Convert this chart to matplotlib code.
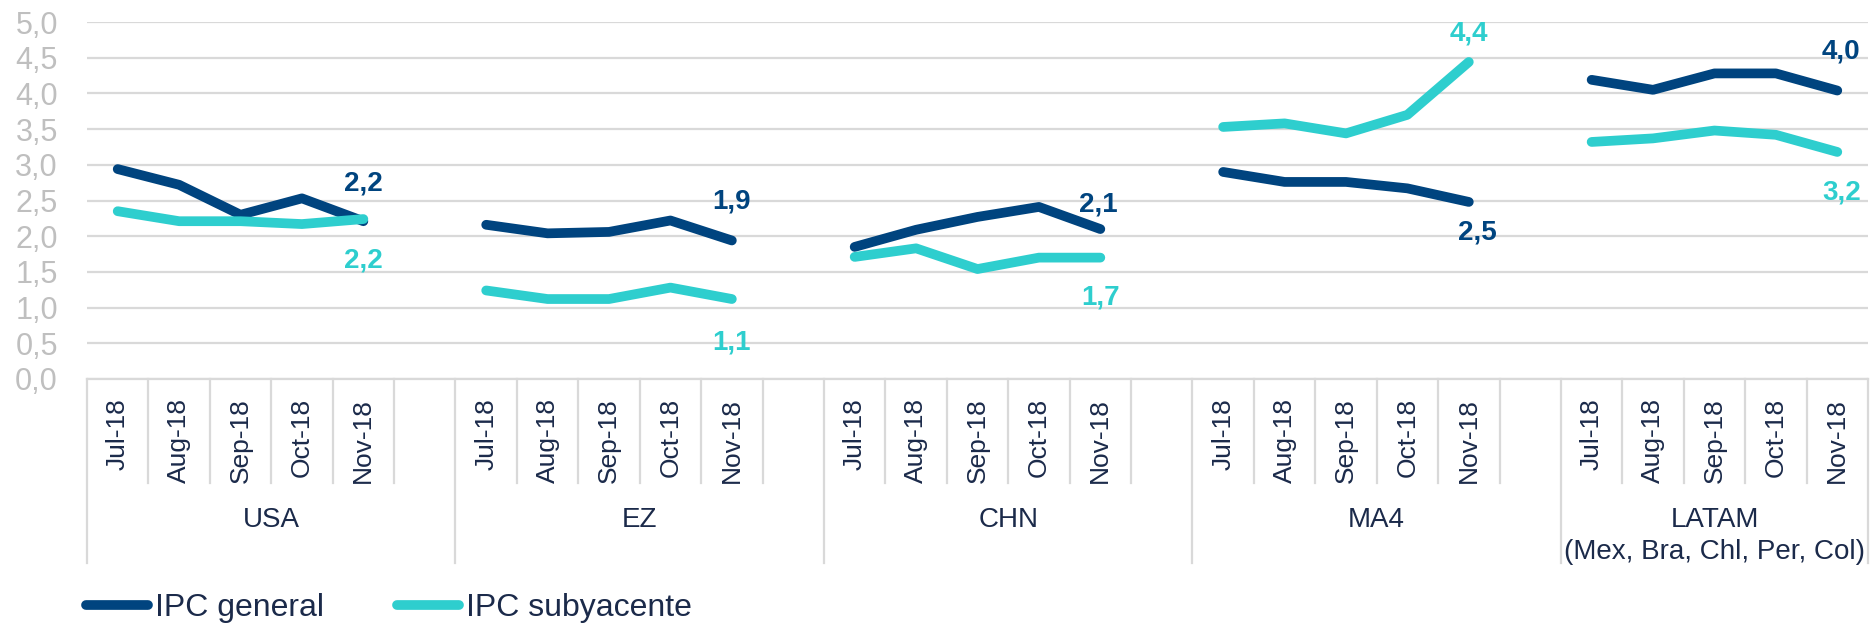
import matplotlib
matplotlib.use("Agg")
import matplotlib.pyplot as plt
from matplotlib.lines import Line2D
from matplotlib.ticker import FuncFormatter
import matplotlib.transforms as mtransforms

plt.rcParams['font.family'] = ['Liberation Sans', 'DejaVu Sans']

months = ['Jul-18', 'Aug-18', 'Sep-18', 'Oct-18', 'Nov-18']
regions = ['USA', 'EZ', 'CHN', 'MA4', 'LATAM\n(Mex, Bra, Chl, Per, Col)']

# IPC general (headline), % y/y
general_usa = [2.94, 2.72, 2.30, 2.53, 2.21]
general_ez = [2.16, 2.04, 2.06, 2.22, 1.94]
general_chn = [1.85, 2.09, 2.27, 2.41, 2.10]
general_ma4 = [2.90, 2.76, 2.76, 2.67, 2.48]
general_latam = [4.19, 4.05, 4.28, 4.28, 4.04]

# IPC subyacente (core), % y/y
core_usa = [2.35, 2.21, 2.21, 2.17, 2.24]
core_ez = [1.24, 1.12, 1.12, 1.28, 1.12]
core_chn = [1.71, 1.83, 1.54, 1.70, 1.70]
core_ma4 = [3.53, 3.58, 3.44, 3.70, 4.44]
core_latam = [3.32, 3.37, 3.48, 3.42, 3.18]

general = [general_usa, general_ez, general_chn, general_ma4, general_latam]
core = [core_usa, core_ez, core_chn, core_ma4, core_latam]

# label offsets in pixels (general, core) for the last point of each group
gen_offsets = [(0, 38), (0, 39), (-2, 25), (9, -31), (4, 39)]
core_offsets = [(0, -41), (0, -43), (0, -40), (0, 28), (4, -41)]

c_gen = '#00447F'
c_core = '#2ECECE'
c_text = '#1B2A4A'
c_grid = '#D9D9D9'

W, H = 1870, 628
fig = plt.figure(figsize=(W / 100, H / 100), dpi=100)
ax = fig.add_axes([87 / W, 1 - 379 / H, (1868 - 87) / W, (379 - 22) / H])

slot = 6
n_slots = slot * (len(regions) - 1) + len(months)

for g in range(len(regions)):
    xs = [g * slot + i for i in range(len(months))]
    ax.plot(xs, general[g], color=c_gen, lw=7, solid_capstyle='round',
            solid_joinstyle='round', zorder=3)
    ax.plot(xs, core[g], color=c_core, lw=7, solid_capstyle='round',
            solid_joinstyle='round', zorder=3)
    ax.annotate(f"{general[g][-1]:.1f}".replace('.', ','), (xs[-1], general[g][-1]),
                xytext=gen_offsets[g], textcoords='offset pixels', ha='center', va='center',
                fontsize=20, fontweight='bold', color=c_gen)
    ax.annotate(f"{core[g][-1]:.1f}".replace('.', ','), (xs[-1], core[g][-1]),
                xytext=core_offsets[g], textcoords='offset pixels', ha='center', va='center',
                fontsize=20, fontweight='bold', color=c_core)

ax.set_xlim(-0.5, n_slots - 0.5)
ax.set_ylim(0, 5)
ax.set_yticks([i * 0.5 for i in range(11)])
ax.yaxis.set_major_formatter(FuncFormatter(lambda v, p: f"{v:.1f}".replace('.', ',')))
ax.tick_params(axis='y', length=0, pad=21, labelsize=22, labelcolor='#BFBFBF')
ax.set_xticks([])
ax.grid(axis='y', color=c_grid, lw=1.6)
ax.set_axisbelow(True)
for s in ['top', 'right', 'left']:
    ax.spines[s].set_visible(False)
ax.spines['bottom'].set_color(c_grid)
ax.spines['bottom'].set_linewidth(1.6)

trans = mtransforms.blended_transform_factory(ax.transData, ax.transAxes)
px = 1 / (379 - 22)

# category dividers
group_edges = [g * slot - 0.5 for g in range(len(regions))] + [n_slots - 0.5]
for b in range(n_slots + 1):
    xb = b - 0.5
    depth = 184 if xb in group_edges else 104
    ax.plot([xb, xb], [0, -depth * px], color=c_grid, lw=1.6, transform=trans,
            clip_on=False)

# month and region labels
for g, reg in enumerate(regions):
    for i, m in enumerate(months):
        ax.text(g * slot + i, -19 * px, m, rotation=90, ha='center', va='top',
                fontsize=19, color=c_text, transform=trans)
    n = len(months) if g == len(regions) - 1 else slot
    xc = g * slot + (n - 1) / 2
    ax.text(xc, -128 * px, reg, ha='center', va='top', fontsize=20,
            color=c_text, transform=trans, linespacing=1.3)

handles = [Line2D([], [], color=c_gen, lw=7, solid_capstyle='round'),
           Line2D([], [], color=c_core, lw=7, solid_capstyle='round')]
fig.legend(handles, ['IPC general', 'IPC subyacente'], loc='center left',
           bbox_to_anchor=(86 / W, (H - 608) / H), ncol=2, frameon=False,
           fontsize=23, handlelength=1.95, handletextpad=0.2, columnspacing=2.3,
           borderpad=0, borderaxespad=0, labelcolor=c_text)

fig.savefig('out.png', dpi=100, facecolor='white')
